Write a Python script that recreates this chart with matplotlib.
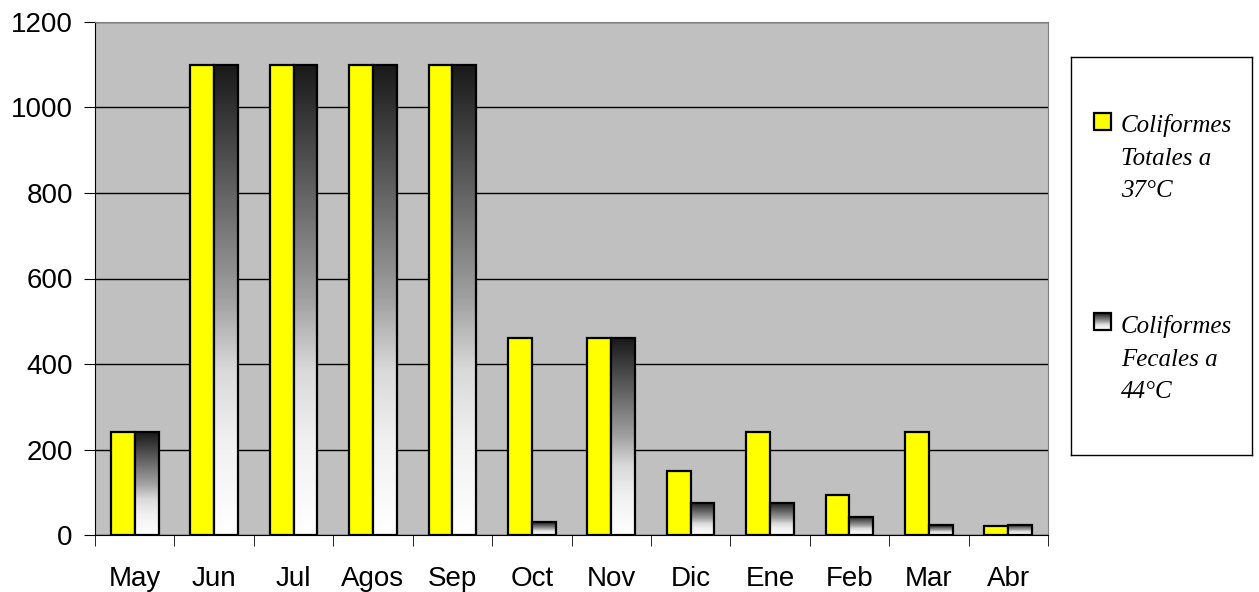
import numpy as np
import matplotlib
matplotlib.use("Agg")
import matplotlib.pyplot as plt
from matplotlib.patches import Rectangle

meses = ["May", "Jun", "Jul", "Agos", "Sep", "Oct", "Nov", "Dic", "Ene", "Feb", "Mar", "Abr"]
totales = [240, 1100, 1100, 1100, 1100, 460, 460, 150, 240, 93, 240, 20]
fecales = [240, 1100, 1100, 1100, 1100, 30, 460, 75, 75, 43, 23, 24]
leyenda = ["Coliformes\nTotales a\n37°C", "Coliformes\nFecales a\n44°C"]

plt.rcParams['font.family'] = ['Liberation Sans', 'DejaVu Sans']

fig = plt.figure(figsize=(12.59, 5.92), dpi=100)
ax = fig.add_axes([95/1259, 1-535/592, (1048-95)/1259, (535-22)/592])
ax.set_facecolor('#c0c0c0')

# degradado negro arriba -> blanco abajo
t = np.linspace(0, 1, 256)
grad = np.interp(t, [0, 0.5, 0.65, 0.8, 1], [0.1, 0.63, 0.85, 0.94, 1.0])[:, None]

w = 0.3
x = np.arange(len(meses))
ax.bar(x - w/2, totales, w, color='#ffff00', edgecolor='black', linewidth=1.6, zorder=3)
for xi, h in zip(x, fecales):
    ax.imshow(grad, extent=[xi, xi + w, 0, h], aspect='auto', cmap='gray',
              vmin=0, vmax=1, origin='upper', zorder=3, interpolation='bilinear')
ax.bar(x + w/2, fecales, w, fill=False, edgecolor='black', linewidth=1.6, zorder=4)

ax.set_xlim(-0.5, len(meses) - 0.5)
ax.set_ylim(0, 1200)
ax.set_yticks(range(0, 1201, 200))
ax.yaxis.grid(True, color='black', linewidth=1)
ax.set_axisbelow(True)
ax.set_xticks(x)
ax.set_xticklabels(meses)
ax.set_xticks(np.arange(-0.5, len(meses), 1), minor=True)
ax.tick_params(axis='x', which='major', length=0, labelsize=20, pad=22)
ax.tick_params(axis='x', which='minor', length=8, direction='out')
ax.tick_params(axis='y', length=8, direction='out', labelsize=20, pad=8)
for s in ['top', 'right']:
    ax.spines[s].set_color('#808080')
ax.spines['left'].set_color('black')
ax.spines['bottom'].set_color('black')

# leyenda
lg = fig.add_axes([1071/1259, 1-455/592, (1252-1071)/1259, (455-57)/592])
lg.set_xticks([])
lg.set_yticks([])
for s in lg.spines.values():
    s.set_color('black')
    s.set_linewidth(1)
lg.add_patch(Rectangle((1094, 113), 17, 17, facecolor='#ffff00', edgecolor='black', linewidth=1.6))
lg.imshow(grad, extent=[1094, 1111, 330, 313], aspect='auto', cmap='gray',
          vmin=0, vmax=1, origin='upper', interpolation='bilinear')
lg.add_patch(Rectangle((1094, 313), 17, 17, fill=False, edgecolor='black', linewidth=1.6))
lg.set_xlim(1071, 1252)
lg.set_ylim(455, 57)
for yy, txt in zip([114, 315], leyenda):
    lg.text(1121, yy, txt, fontsize=18, fontstyle='italic', family=['Liberation Serif', 'DejaVu Serif'],
            va='top', ha='left', linespacing=1.62)

fig.savefig("out.png", dpi=100)
